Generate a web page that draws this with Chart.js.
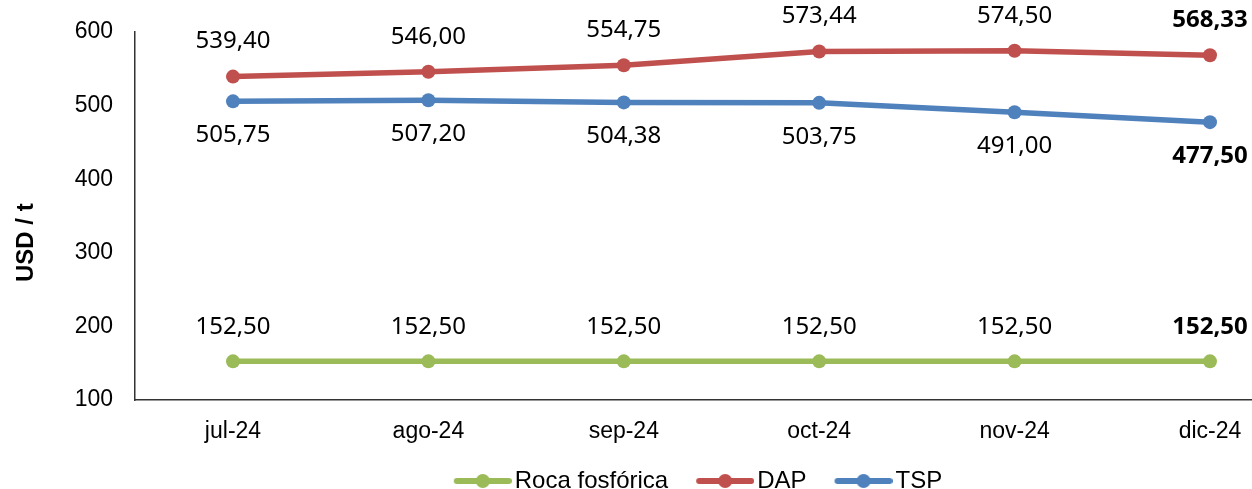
<!DOCTYPE html>
<html>
<head>
<meta charset="utf-8">
<script src="https://cdn.jsdelivr.net/npm/chart.js@4.4.1/dist/chart.umd.min.js"></script>
<style>
  html, body { margin: 0; padding: 0; background: #fff; overflow: hidden; }
  #wrap { position: relative; width: 1252px; height: 489px; }
</style>
</head>
<body>
<div id="wrap"><canvas id="priceChart"></canvas></div>
<script>
const months = ["jul-24", "ago-24", "sep-24", "oct-24", "nov-24", "dic-24"];
const roca = [152.5, 152.5, 152.5, 152.5, 152.5, 152.5];
const dap = [539.4, 546.0, 554.75, 573.44, 574.5, 568.33];
const tsp = [505.75, 507.2, 504.38, 503.75, 491.0, 477.5];
const yTicks = [100, 200, 300, 400, 500, 600];

const GREEN = "#9BBB59";
const RED = "#C0504D";
const BLUE = "#4F81BD";
const FONT = "'Liberation Sans', Arial";

// legend marker: line with a dot, shifted right inside a wider image
function legendMarker(color) {
  const c = document.createElement("canvas");
  c.width = 76;
  c.height = 16;
  const g = c.getContext("2d");
  g.strokeStyle = color;
  g.lineWidth = 6;
  g.lineCap = "round";
  g.beginPath();
  g.moveTo(21, 8);
  g.lineTo(73, 8);
  g.stroke();
  g.fillStyle = color;
  g.beginPath();
  g.arc(47, 8, 7, 0, Math.PI * 2);
  g.fill();
  return c;
}

function toPoints(values) {
  return values.map((v, i) => ({ x: i, y: v }));
}

function fmt(v) {
  return v.toFixed(2).replace(".", ",");
}

// value labels above / below points, last one bold
const valueLabels = {
  id: "valueLabels",
  afterDatasetsDraw(chart) {
    const ctx = chart.ctx;
    const offsets = [-34, -35, 34];
    ctx.save();
    ctx.fillStyle = "#000";
    ctx.textAlign = "center";
    ctx.textBaseline = "middle";
    chart.data.datasets.forEach((ds, di) => {
      const meta = chart.getDatasetMeta(di);
      meta.data.forEach((pt, i) => {
        const last = i === meta.data.length - 1;
        ctx.font = (last ? "bold " : "") + "24px 'Noto Sans'";
        ctx.fillText(fmt(ds.data[i].y), pt.x, pt.y + offsets[di]);
      });
    });
    ctx.restore();
  },
};

const markers = [legendMarker(GREEN), legendMarker(RED), legendMarker(BLUE)];

const chart = new Chart(document.getElementById("priceChart"), {
  type: "line",
  data: {
    datasets: [
      {
        label: "Roca fosfórica",
        data: toPoints(roca),
        borderColor: GREEN,
        backgroundColor: GREEN,
      },
      {
        label: "DAP",
        data: toPoints(dap),
        borderColor: RED,
        backgroundColor: RED,
      },
      {
        label: "TSP",
        data: toPoints(tsp),
        borderColor: BLUE,
        backgroundColor: BLUE,
      },
    ],
  },
  options: {
    responsive: true,
    maintainAspectRatio: false,
    animation: false,
    layout: {
      autoPadding: false,
      padding: { top: 32, right: 0, left: 0, bottom: -14 },
    },
    plugins: {
      tooltip: { enabled: false },
      legend: {
        position: "bottom",
        fullSize: false,
        labels: {
          color: "#000",
          font: { family: FONT, size: 24 },
          padding: 19,
          usePointStyle: true,
          pointStyleWidth: 58,
          generateLabels(chart) {
            return chart.data.datasets.map((ds, i) => ({
              text: ds.label,
              pointStyle: markers[i],
              fillStyle: ds.borderColor,
              strokeStyle: ds.borderColor,
              lineWidth: 0,
              fontColor: "#000",
              datasetIndex: i,
            }));
          },
        },
      },
    },
    elements: {
      point: { pointStyle: "circle", radius: 7, hoverRadius: 7, borderWidth: 0 },
      line: { tension: 0, borderWidth: 5.5 },
    },
    scales: {
      x: {
        type: "linear",
        min: -0.5015,
        max: 5.215,
        grid: { display: false, drawTicks: false },
        border: { display: true, color: "#333", width: 1.5 },
        afterBuildTicks(scale) {
          scale.ticks = months.map((m, i) => ({ value: i }));
        },
        afterFit(scale) {
          scale.height = 50;
          scale.paddingLeft = 0;
          scale.paddingRight = 0;
        },
        ticks: {
          color: "#000",
          padding: 18,
          maxRotation: 0,
          autoSkip: false,
          font: { family: FONT, size: 23 },
          callback: (v) => months[v],
        },
      },
      y: {
        min: 100,
        max: 600,
        grid: { display: false, drawTicks: false },
        border: { display: true, color: "#333", width: 1.5 },
        afterBuildTicks(scale) {
          scale.ticks = yTicks.map((v) => ({ value: v }));
        },
        afterFit(scale) {
          scale.width = 135;
          scale.paddingTop = 0;
          scale.paddingBottom = 0;
        },
        ticks: {
          color: "#000",
          padding: 22,
          font: { family: FONT, size: 23 },
        },
        title: {
          display: true,
          text: "USD / t" + "\u00a0".repeat(8),
          color: "#000",
          padding: { top: 12, bottom: 0 },
          font: { family: FONT, size: 24, weight: "bold" },
        },
      },
    },
  },
  plugins: [valueLabels],
});
</script>
</body>
</html>
